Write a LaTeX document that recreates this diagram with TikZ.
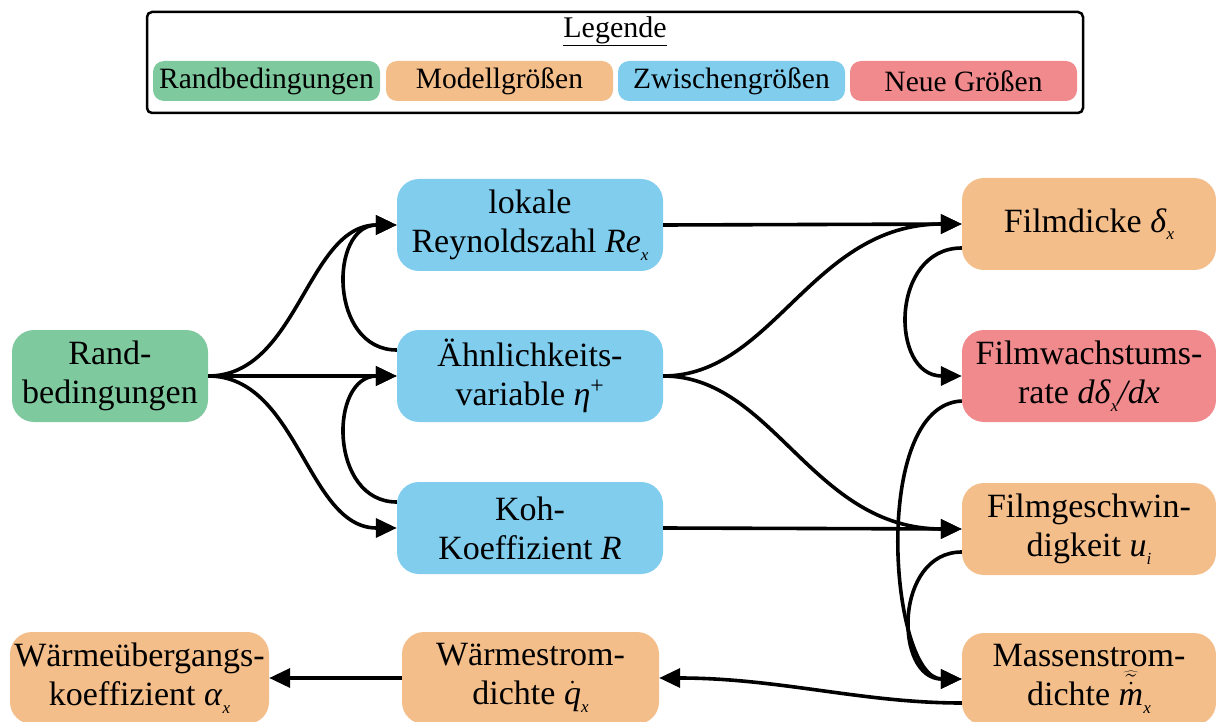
\RequirePackage{fix-cm}
\documentclass[tikz,border=0pt]{standalone}
\usepackage{fontspec}
\setmainfont{Liberation Serif}
\usetikzlibrary{arrows.meta,calc}

\definecolor{randgreen}{RGB}{127,201,159}
\definecolor{modellorange}{RGB}{244,190,139}
\definecolor{zwischenblue}{RGB}{128,205,238}
\definecolor{neured}{RGB}{240,138,141}

% small italic index placed below the baseline
\newcommand{\isub}[1]{\raisebox{-0.22em}{\fontsize{17}{17}\selectfont\itshape #1}}

\begin{document}
\begin{tikzpicture}[x=1pt,y=-1pt,
  box/.style={rounded corners=22pt, minimum height=92pt, inner sep=0pt,
    align=center, font=\fontsize{34}{39}\selectfont},
  legitem/.style={rounded corners=11pt, minimum width=227pt, minimum height=40pt,
    inner sep=0pt, font=\fontsize{29.5}{31}\selectfont},
  conn/.style={line width=3.6pt, -{Triangle[length=21pt,width=19pt]}},
  link/.style={line width=3.6pt}]

\useasboundingbox (0,0) rectangle (1216,722);

% legend
\node[draw, line width=2.5pt, rounded corners=5pt, minimum width=936pt,
  minimum height=101pt, inner sep=0pt] (legend) at (615,62.5) {};
\node[font=\fontsize{30}{32}\selectfont] (legtitle) at (615,31) {\underline{Legende}};
\node[legitem, fill=randgreen] (lg1) at (266.5,81) {Randbedingungen};
\node[legitem, fill=modellorange] (lg2) at (499.5,81) {Modellgrößen};
\node[legitem, fill=zwischenblue] (lg3) at (731.5,81) {Zwischengrößen};
\node[legitem, fill=neured] (lg4) at (963.5,81) {Neue Größen};

% quantities
\node[box, fill=randgreen, minimum width=196pt] (rand) at (110,376) {Rand-\\bedingungen};
\node[box, fill=zwischenblue, minimum width=266pt] (re) at (530,225)
  {lokale\\Reynoldszahl \textit{Re}\isub{x}};
\node[box, fill=zwischenblue, minimum width=266pt] (eta) at (530,376)
  {Ähnlichkeits-\\variable \textit{η}\textsuperscript{+}};
\node[box, fill=zwischenblue, minimum width=266pt] (koh) at (530,528)
  {Koh-\\Koeffizient \textit{R}};
\node[box, fill=modellorange, minimum width=254pt] (fd) at (1089,224)
  {Filmdicke \textit{δ}\isub{x}};
\node[box, fill=neured, minimum width=254pt] (fw) at (1089,376)
  {Filmwachstums-\\rate \textit{dδ}\isub{x}\textit{/dx}};
\node[box, fill=modellorange, minimum width=254pt] (fg) at (1089,529)
  {Filmgeschwin-\\digkeit \textit{u}\isub{i}};
\node[box, fill=modellorange, minimum width=254pt] (ms) at (1089,679)
  {Massenstrom-\\dichte $\widehat{\tilde{\dot{\textit{m}}}}$\isub{x}};
\node[box, fill=modellorange, minimum width=257pt] (ws) at (530.5,678)
  {Wärmestrom-\\dichte $\dot{\textit{q}}$\isub{x}};
\node[box, fill=modellorange, minimum width=259pt] (wu) at (139.5,678)
  {Wärmeübergangs-\\koeffizient \textit{α}\isub{x}};

% boundary conditions feed the intermediate quantities
\draw[conn] (rand.east) .. controls +(90,0) and +(-90,0) .. (re.west);
\draw[conn] (rand.east) -- (eta.west);
\draw[conn] (rand.east) .. controls +(90,0) and +(-90,0) .. (koh.west);
\draw[conn] ($(eta.west)+(0,-26)$) .. controls +(-68,0) and +(-68,0) .. (re.west);
\draw[conn] ($(koh.west)+(0,-26)$) .. controls +(-68,0) and +(-68,0) .. (eta.west);

% intermediate quantities feed the film model
\draw[conn] (re.east) -- (fd.west);
\draw[conn] (eta.east) .. controls +(110,0) and +(-150,0) .. (fd.west);
\draw[conn] (eta.east) .. controls +(110,0) and +(-150,0) .. (fg.west);
\draw[conn] (koh.east) -- (fg.west);

% film model chain
\draw[conn] ($(fd.west)+(0,24)$) .. controls +(-72,0) and +(-72,0) .. (fw.west);
\draw[conn] ($(fw.west)+(0,25)$) .. controls +(-92,4) and +(-72,0) .. (ms.west);
\draw[conn] ($(fg.west)+(0,23)$) .. controls +(-68,0) and +(-68,0) .. (ms.west);

% heat transfer chain
\draw[conn] ($(ms.west)+(0,24)$) .. controls +(-100,0) and +(120,0) .. (ws.east);
\draw[conn] (ws.west) -- (wu.east);

\end{tikzpicture}
\end{document}
